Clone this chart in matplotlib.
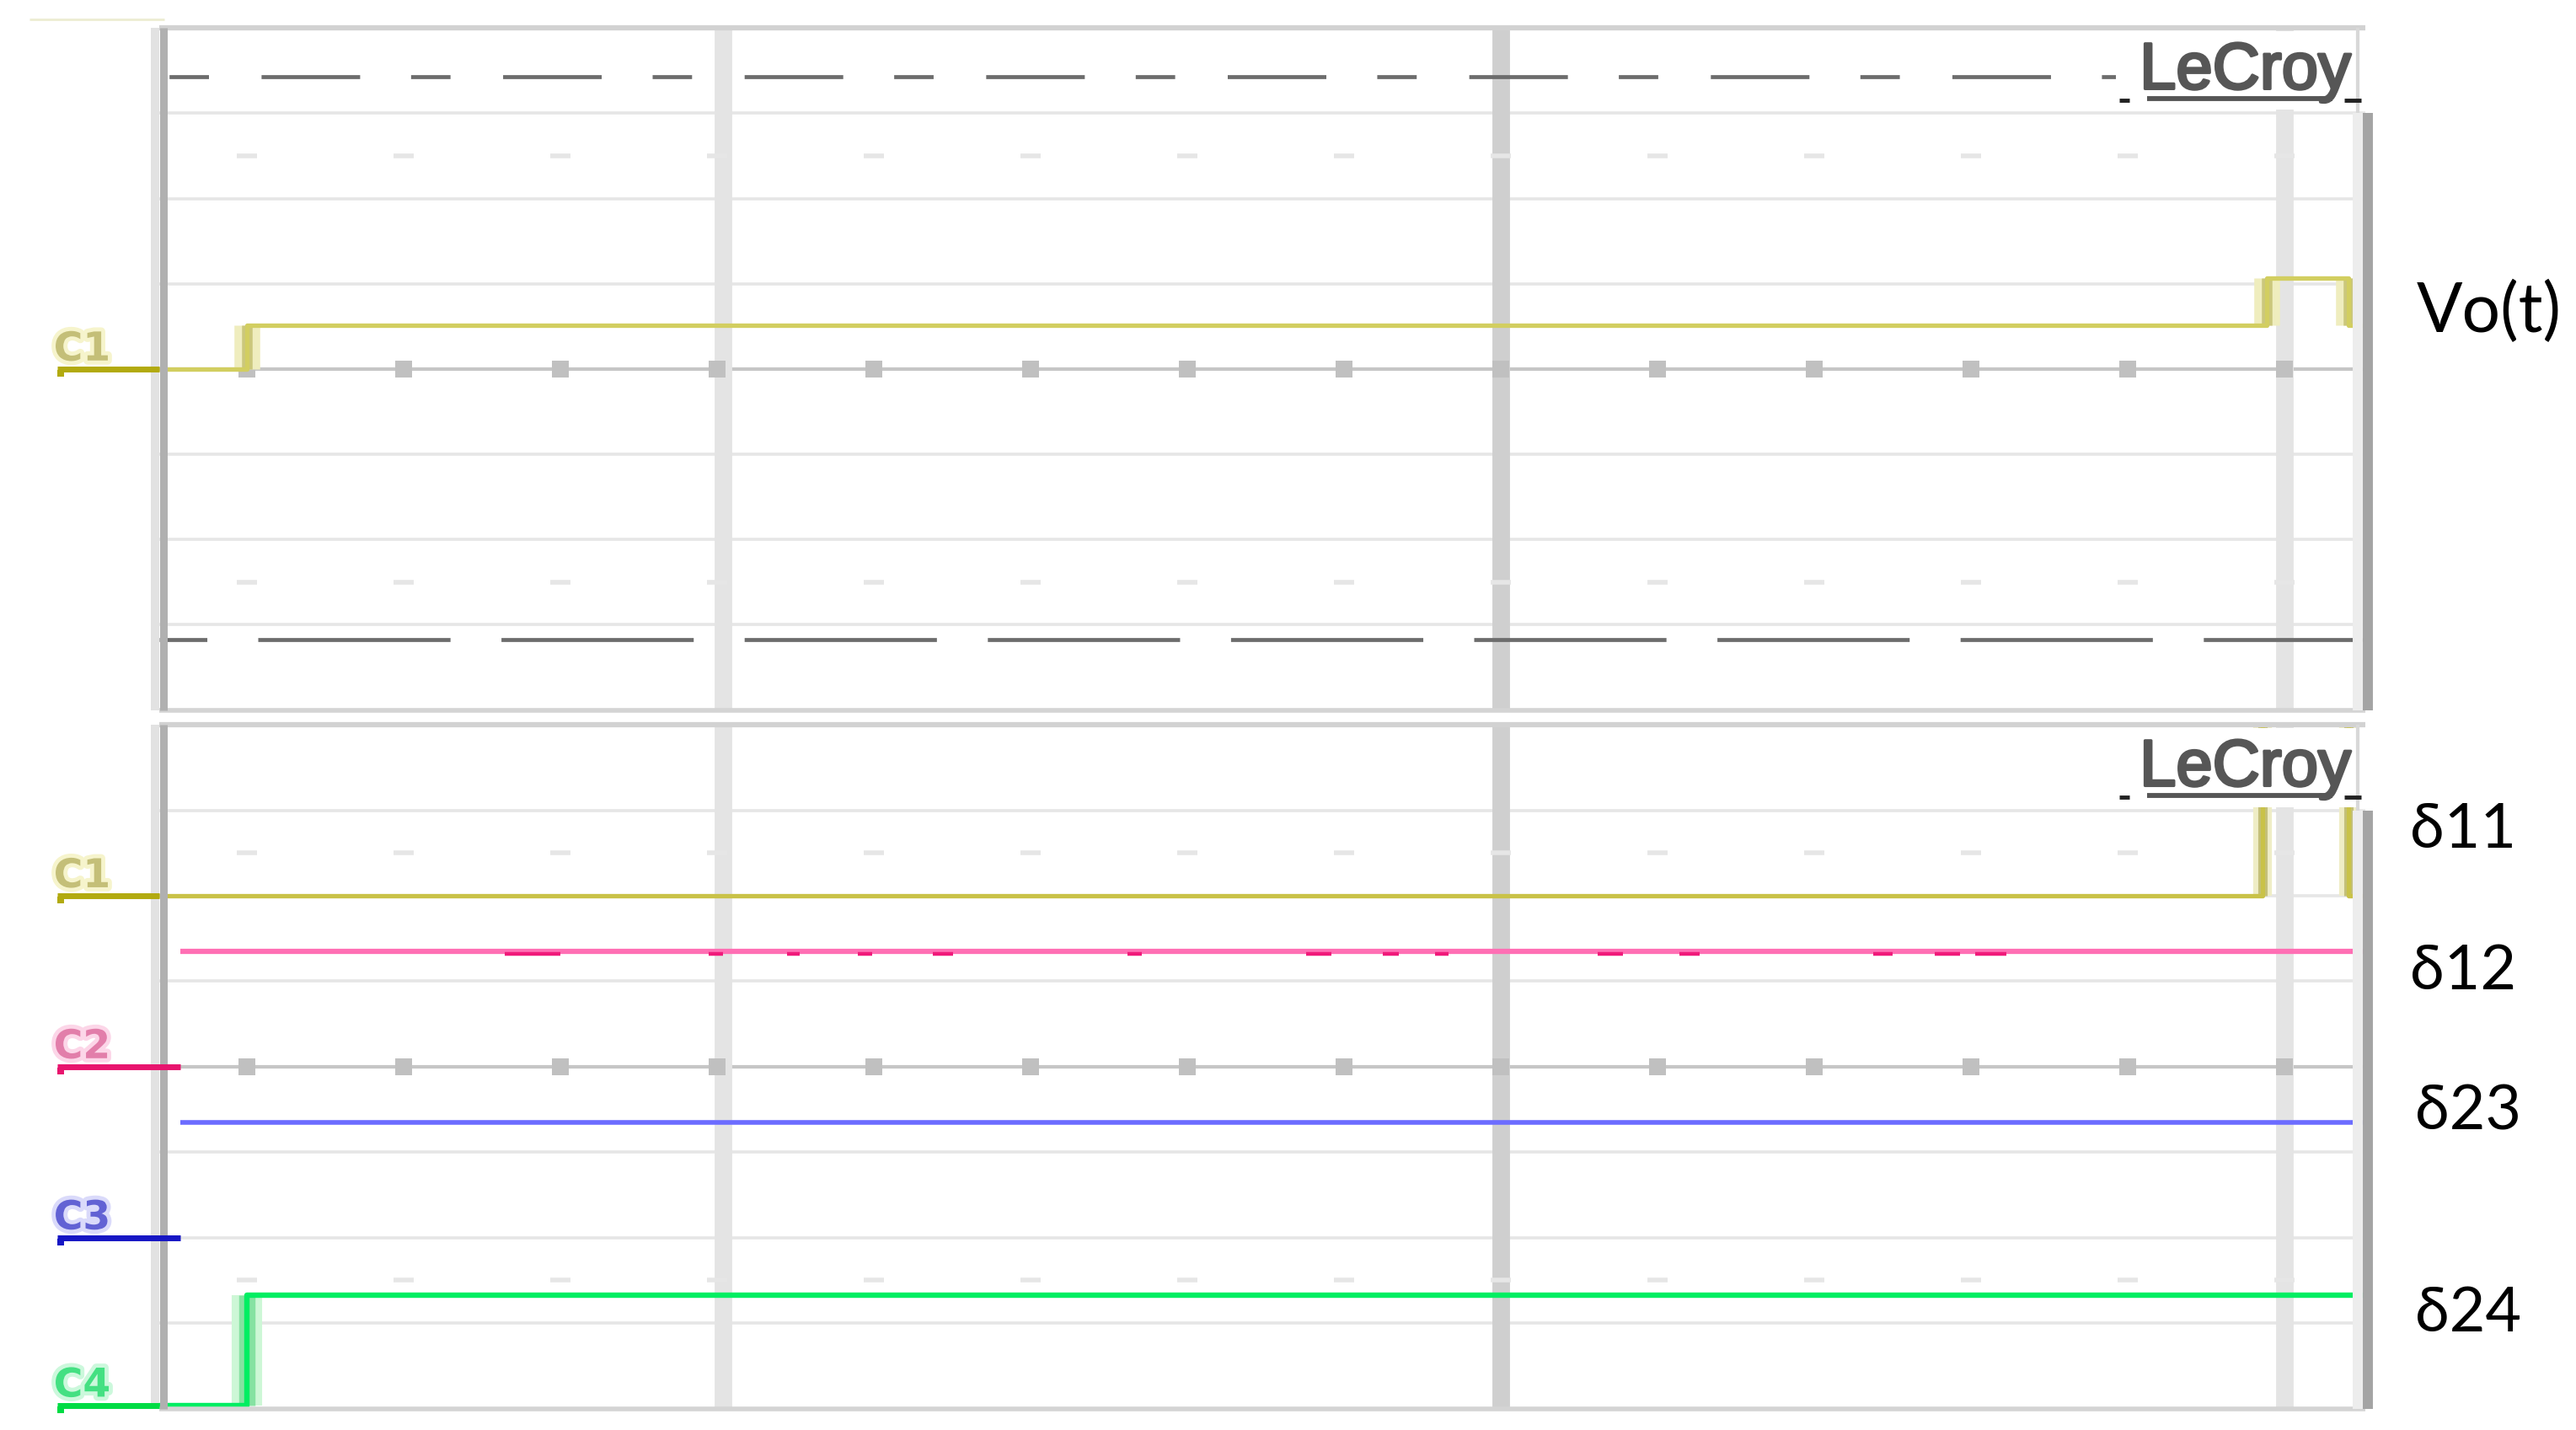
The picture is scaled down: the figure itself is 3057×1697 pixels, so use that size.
import matplotlib
matplotlib.use("Agg")
import matplotlib.pyplot as plt
import matplotlib.patheffects as pe
from matplotlib.patches import Rectangle
from matplotlib.lines import Line2D

plt.rcParams['lines.scale_dashes'] = False
plt.rcParams['lines.solid_capstyle'] = 'butt'

# ---------------- data (x: horizontal divisions, y: vertical divisions) ----------------
x_min, x_max = -0.556, 13.52
y_min, y_max = -4.0, 4.0
grid_levels = [-3, -2, -1, 1, 2, 3]
tick_positions = list(range(0, 14))
cursor_t = [3.04, 8.0, 13.0]
cursor_colors = ['#e4e4e4', '#cfcfcf', '#e4e4e4']

# top screen : Vo(t) on channel C1
vo_t = [-0.556, 0.0, 12.89, 13.41, 13.52]
vo_v = [0.0, 0.515, 1.07, 0.515, 0.515]
top_channels = ['C1']
top_gnd = [0.0]
dash_dot_level = 3.43
dash_level = -3.17

# bottom screen : gate signals
d11_t = [-0.556, 12.86, 13.41, 13.52]
d11_v = [2.0, 4.6, 2.0, 2.0]
d12_t = [-0.42, 13.52]
d12_v = [1.35, 1.35]
d12_glitch_start = [1.65, 2.95, 3.45, 3.90, 4.38, 5.62, 6.76, 7.25, 7.58, 8.62, 9.14, 10.38, 10.77, 11.03]
d12_glitch_end = [2.00, 3.04, 3.53, 3.99, 4.51, 5.71, 6.92, 7.35, 7.67, 8.78, 9.27, 10.50, 10.93, 11.23]
d23_t = [-0.42, 13.52]
d23_v = [-0.65, -0.65]
d24_t = [-0.556, 0.0, 13.52]
d24_v = [-3.96, -2.67, -2.67]
bot_channels = ['C1', 'C2', 'C3', 'C4']
bot_gnd = [2.0, 0.0, -2.0, -3.96]

right_labels = ['Vo(t)', 'δ11', 'δ12', 'δ23', 'δ24']

# ---------------- layout helpers (reference measured on 1568 x 870 view) ----------------
SW, SH = 1568.0, 870.0
DIV_PER_PX = (x_max - x_min) / (1440 - 97)   # divisions per reference pixel
PT = 1.95 * 0.72                              # points per reference pixel


def fx(px):
    return px / SW


def fy(py):
    return 1.0 - py / SH


def xd(px):
    return x_min + (px - 97) * DIV_PER_PX


fig = plt.figure(figsize=(30.57, 16.97), dpi=100)
fig.patch.set_facecolor('white')

ax_top = fig.add_axes([fx(97), fy(432), fx(1440) - fx(97), fy(17) - fy(432)])
ax_bot = fig.add_axes([fx(97), fy(857), fx(1440) - fx(97), fy(441) - fy(857)])

trace_colors = {'C1': '#cdc955', 'C2': '#ff6fb4', 'C3': '#6c6cff', 'C4': '#00ee62'}
marker_colors = {'C1': '#b2aa10', 'C2': '#e8146e', 'C3': '#1616c4', 'C4': '#00dc44'}
label_colors = {'C1': '#c4bf78', 'C2': '#e27eaa', 'C3': '#6262d4', 'C4': '#44e082'}
halo_colors = {'C1': '#f6f4cc', 'C2': '#fcd6e8', 'C3': '#dadafa', 'C4': '#ccf8dc'}


def draw_screen(ax):
    ax.set_xlim(x_min, x_max)
    ax.set_ylim(y_min, y_max)
    ax.set_axis_off()
    for y in grid_levels:
        ax.axhline(y, color='#e6e6e6', lw=2.6, zorder=1)
    ax.axhline(0, color='#c6c6c6', lw=3.0, zorder=1.2)
    for t, c in zip(cursor_t, cursor_colors):
        ax.axvline(t, color=c, lw=15, zorder=1.5)
    ax.plot(tick_positions, [0] * len(tick_positions), ls='none', marker='s', ms=14,
            mew=0, color='#c0c0c0', zorder=1.6)
    for lev in (2.5, -2.5):
        ax.plot(tick_positions, [lev] * len(tick_positions), ls='none', marker='_',
                ms=17, mew=4, color='#e6e6e6', zorder=1.6)
    # frame
    ax.axhline(y_max, color='#d2d2d2', lw=4.5, zorder=5, clip_on=False)
    ax.axhline(y_min, color='#d4d4d4', lw=4.0, zorder=5, clip_on=False)
    ax.axvline(x_min - 0.027, color='#e2e2e2', lw=7.2, zorder=5, clip_on=False)
    ax.axvline(x_min + 0.024, color='#b0b0b0', lw=6.5, zorder=5, clip_on=False)
    ax.axvline(x_max - 0.05, ymin=0, ymax=0.875, color='#ededed', lw=8.6, zorder=5, clip_on=False)
    ax.axvline(x_max + 0.016, ymin=0, ymax=0.875, color='#a4a4a4', lw=8.6, zorder=5, clip_on=False)
    # LeCroy box
    ax.add_patch(Rectangle((xd(1288), 3.04), x_max - xd(1288) + 0.03, 0.92,
                           facecolor='white', edgecolor='none', zorder=6, clip_on=False))
    ax.axvline(xd(1435), ymin=0.875, ymax=1.0, color='#d8d8d8', lw=3, zorder=6.5)


def step_trace(ax, t, v, color, lw, edge_halo, edge_core, halo_lw, core_lw):
    for i in range(1, len(t) - 1):
        ax.vlines(t[i], v[i - 1], v[i], color=edge_halo, lw=halo_lw, zorder=3.7)
        ax.vlines(t[i], v[i - 1], v[i], color=edge_core, lw=core_lw, zorder=3.8)
    ax.plot(t, v, drawstyle='steps-post', color=color, lw=lw, zorder=4)


def ground_marker(ax, name, gnd, x_end):
    ax.plot([xd(35), x_end], [gnd, gnd], color=marker_colors[name], lw=5.0,
            zorder=7, clip_on=False)
    ax.plot([xd(37)], [gnd - 0.05], ls='none', marker='s', ms=6, mew=0,
            color=marker_colors[name], zorder=7, clip_on=False)
    ax.text(xd(50), gnd + 0.10, name, ha='center', va='baseline', fontsize=34,
            fontweight='bold', family='DejaVu Sans', color=label_colors[name],
            zorder=7, clip_on=False,
            path_effects=[pe.withStroke(linewidth=7, foreground=halo_colors[name])])


draw_screen(ax_top)
draw_screen(ax_bot)

# dark cursor lines on the top screen
ax_top.axhline(dash_dot_level, color='#6c6c6c', lw=3.4, zorder=2,
               linestyle=(141 * PT, (24 * PT, 32 * PT, 60 * PT, 31 * PT)))
ax_top.axhline(dash_level, color='#6c6c6c', lw=3.4, zorder=2,
               linestyle=(88 * PT, (117 * PT, 31 * PT)))

# traces
step_trace(ax_top, vo_t, vo_v, '#d2ce60', 3.8, '#efedbe', '#cbc77c', 22, 9)
ground_marker(ax_top, 'C1', top_gnd[0], x_min)

step_trace(ax_bot, d11_t, d11_v, '#c9c248', 3.8, '#efedc6', '#c4c07a', 16, 8)
ax_bot.plot(d12_t, d12_v, color=trace_colors['C2'], lw=4.5, zorder=4)
ax_bot.hlines([d12_v[0] - 0.03] * len(d12_glitch_start), d12_glitch_start, d12_glitch_end,
              color='#f01a7a', lw=3.2, zorder=4.1)
ax_bot.plot(d23_t, d23_v, color=trace_colors['C3'], lw=4.0, zorder=4)
step_trace(ax_bot, d24_t, d24_v, trace_colors['C4'], 4.6, '#cdf7d6', '#86e2a2', 26, 14)

trace_starts = [d11_t[0], d12_t[0], d23_t[0], d24_t[0]]
for name, gnd, xs in zip(bot_channels, bot_gnd, trace_starts):
    ground_marker(ax_bot, name, gnd, xs)

# LeCroy logos
for off in (0, 424):
    fig.text(fx(1431), fy(54 + off), 'LeCroy', ha='right', va='baseline', fontsize=56,
             family=['Liberation Sans', 'DejaVu Sans'], color='#565656', zorder=8,
             path_effects=[pe.withStroke(linewidth=2.4, foreground='#565656')])
    fig.add_artist(Line2D([fx(1307), fx(1420)], [fy(60 + off)] * 2, transform=fig.transFigure,
                          color='#555555', lw=4.2, zorder=8))
    fig.add_artist(Line2D([fx(1290), fx(1296)], [fy(61 + off)] * 2, transform=fig.transFigure,
                          color='#222222', lw=3.5, zorder=8))
    fig.add_artist(Line2D([fx(1427), fx(1437)], [fy(61 + off)] * 2, transform=fig.transFigure,
                          color='#222222', lw=3.5, zorder=8))

# faint mark at the top-left corner
fig.add_artist(Line2D([fx(18), fx(100)], [fy(12), fy(12)], transform=fig.transFigure,
                      color='#ececd2', lw=2.0))

# right-hand labels
label_x = [1471, 1467, 1467, 1470, 1470]
label_base = [202, 516, 602, 687, 810]
label_size = [58, 53, 53, 53, 53]
for txt, x, y, s in zip(right_labels, label_x, label_base, label_size):
    fig.text(fx(x), fy(y), txt, ha='left', va='baseline', fontsize=s,
             family=['Lato', 'Noto Sans', 'DejaVu Sans'], color='black')

fig.savefig('out.png', dpi=100, facecolor='white')
